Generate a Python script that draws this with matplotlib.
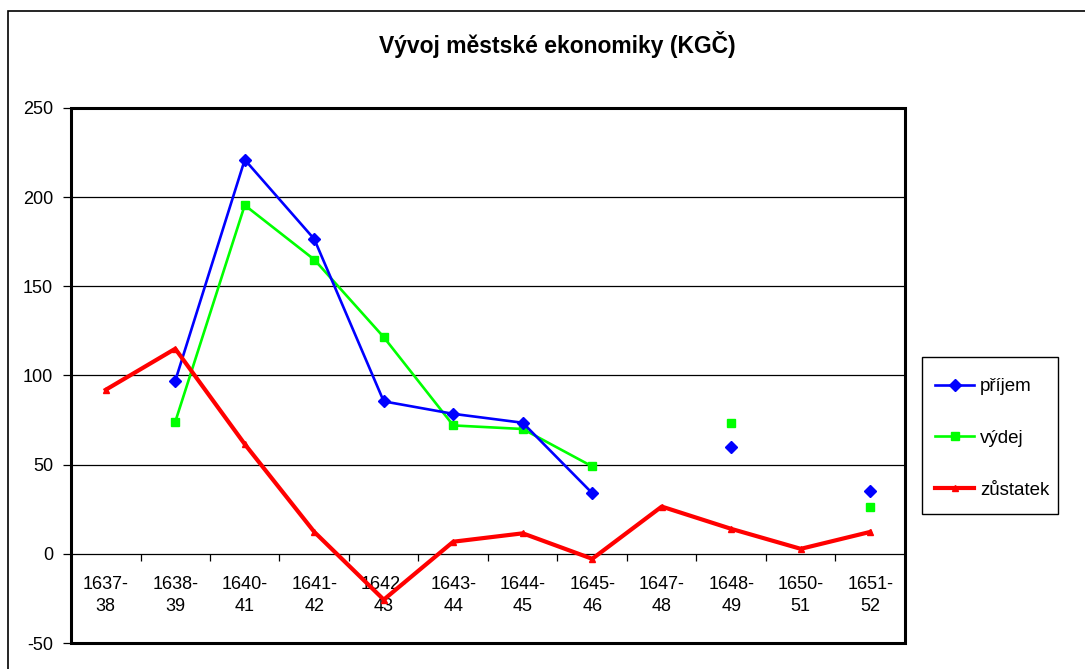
import numpy as np
import matplotlib
matplotlib.use("Agg")
import matplotlib.pyplot as plt
from matplotlib.patches import Rectangle

plt.rcParams['font.family'] = ['Liberation Sans', 'DejaVu Sans']

title = "Vývoj městské ekonomiky (KGČ)"
categories = ["1637-\n38", "1638-\n39", "1640-\n41", "1641-\n42", "1642-\n43", "1643-\n44",
              "1644-\n45", "1645-\n46", "1647-\n48", "1648-\n49", "1650-\n51", "1651-\n52"]
nan = np.nan
prijem = [nan, 97, 221, 176.5, 85.5, 78.5, 73.5, 34, nan, 60, nan, 35.5]
vydej = [nan, 74, 195.5, 165, 121.5, 72, 70, 49, nan, 73.5, nan, 26.5]
zustatek = [92, 115, 61.5, 12.3, -25.7, 6.8, 11.5, -2.8, 26.5, 14, 2.8, 12.3]
yticks = [-50, 0, 50, 100, 150, 200, 250]
series_labels = ["příjem", "výdej", "zůstatek"]

W, H = 1085, 669
fig = plt.figure(figsize=(W / 100, H / 100), dpi=100)
fig.patch.set_facecolor('white')

# outer chart border (extends past right/bottom edge)
fig.patches.append(Rectangle((8 / W, -0.1), 1.2, (H - 11) / H + 0.1, transform=fig.transFigure,
                             fill=False, edgecolor='black', lw=1.2, zorder=0))

ax = fig.add_axes([71 / W, 1 - 643 / H, (905 - 71) / W, (643 - 108) / H])
x = np.arange(len(categories)) + 0.5

ax.plot(x, prijem, color='#0000FF', lw=1.9, marker='D', ms=6.5, zorder=4)
ax.plot(x, vydej, color='#00FF00', lw=1.9, marker='s', ms=5.5, zorder=3)
ax.plot(x, zustatek, color='#FF0000', lw=3.0, marker='^', ms=4.5, zorder=5)

ax.set_xlim(0, len(categories))
ax.set_ylim(-50, 250)
ax.set_yticks(yticks)
ax.set_yticklabels([str(v) for v in yticks])
for v in yticks[2:-1]:
    ax.axhline(v, color='black', lw=0.9, zorder=1)

# category axis at zero
for s in ['top', 'right', 'left']:
    ax.spines[s].set_visible(False)
ax.spines['bottom'].set_position(('data', 0))
ax.spines['bottom'].set_linewidth(0.9)
ax.set_xticks(x)
ax.set_xticklabels(categories, linespacing=1.4)
ax.set_xticks(np.arange(len(categories) + 1), minor=True)
ax.tick_params(axis='x', which='major', length=0, pad=16, labelsize=13)
ax.tick_params(axis='x', which='minor', length=5, width=0.9, direction='out')
ax.tick_params(axis='y', length=6, width=0.9, pad=7, labelsize=13, direction='out')

# plot-area frame
ax.add_patch(Rectangle((0, 0), 1, 1, transform=ax.transAxes, fill=False,
                       edgecolor='black', lw=2.2, clip_on=False, zorder=6))

fig.text(557 / W, 1 - 45 / H, title, ha='center', va='center', fontsize=16.5, fontweight='bold')

# legend frame
fig.patches.append(Rectangle((922 / W, 1 - 514 / H), (1058 - 922) / W, (514 - 357) / H,
                             transform=fig.transFigure, fill=False, edgecolor='black', lw=1.0))
handles = ax.get_lines()[:3]
leg = fig.legend(handles, series_labels, loc='upper left',
                 bbox_to_anchor=(935 / W, 1 - 378 / H), fontsize=13.5,
                 frameon=False, borderpad=0, labelspacing=1.85, handlelength=2.1,
                 handletextpad=0.3, borderaxespad=0)

fig.savefig('out.png', dpi=100)
